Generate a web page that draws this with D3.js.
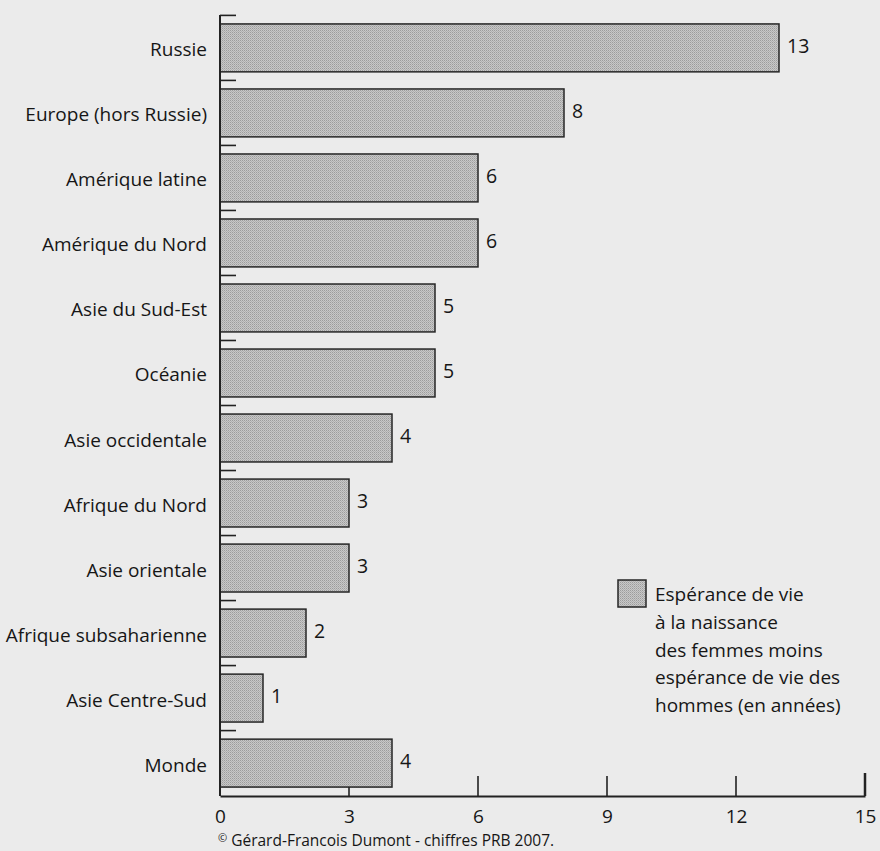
<!DOCTYPE html>
<html>
<head>
<meta charset="utf-8">
<script src="https://cdn.jsdelivr.net/npm/d3@7"></script>
<style>
  html, body { margin: 0; padding: 0; background: #ebebeb; }
  svg { display: block; }
  text { font-family: "Open Sans", "Noto Sans", sans-serif; fill: #161616; }
</style>
</head>
<body>
<svg id="chart" width="880" height="851"></svg>
<script>
const categories = ["Russie", "Europe (hors Russie)", "Amérique latine", "Amérique du Nord",
  "Asie du Sud-Est", "Océanie", "Asie occidentale", "Afrique du Nord", "Asie orientale",
  "Afrique subsaharienne", "Asie Centre-Sud", "Monde"];
const values = [13, 8, 6, 6, 5, 5, 4, 3, 3, 2, 1, 4];
const xTicks = [0, 3, 6, 9, 12, 15];
const legendLines = ["Espérance de vie", "à la naissance", "des femmes moins",
  "espérance de vie des", "hommes (en années)"];
const source = "Gérard-Francois Dumont - chiffres PRB 2007.";

const svg = d3.select("#chart");
svg.append("rect").attr("class", "bg").attr("width", 880).attr("height", 851).attr("fill", "#ebebeb");

// stipple pattern
const defs = svg.append("defs");
const pat = defs.append("pattern").attr("id", "stipple")
  .attr("width", 2).attr("height", 2).attr("patternUnits", "userSpaceOnUse");
pat.append("rect").attr("width", 2).attr("height", 2).attr("fill", "#c8c8c8");
pat.append("rect").attr("x", 0).attr("y", 0).attr("width", 1).attr("height", 1).attr("fill", "#9c9c9c");
pat.append("rect").attr("x", 1).attr("y", 1).attr("width", 1).attr("height", 1).attr("fill", "#b0b0b0");

const x0 = 220, xEnd = 865, yTop = 15, yBot = 796;
const x = d3.scaleLinear().domain([0, 15]).range([x0, xEnd]);
const y = d3.scaleBand().domain(categories).range([yTop, yBot])
  .paddingInner(0.263).paddingOuter(0.1375);
const step = y.step();
const gapHalf = step * y.paddingInner() / 2;

// x axis (drawn first so bars cover the low ticks)
const xAxis = d3.axisBottom(x).tickValues(xTicks).tickSize(0).tickPadding(0);
const gx = svg.append("g").attr("transform", `translate(0,${yBot})`).call(xAxis);
gx.select(".domain").attr("stroke", "#222").attr("stroke-width", 1.8);
gx.selectAll(".tick line").remove();
gx.selectAll(".tick text").attr("font-size", 19).attr("font-family", "Open Sans")
  .attr("fill", "#161616").attr("dy", 0).attr("y", 27);
svg.append("g").selectAll("line").data(xTicks.filter(t => t > 0)).join("line")
  .attr("x1", d => x(d)).attr("x2", d => x(d))
  .attr("y1", yBot).attr("y2", d => d === 15 ? yBot - 23 : yBot - 20)
  .attr("stroke", "#222").attr("stroke-width", d => d === 15 ? 2.5 : 1.6);

// bars
svg.append("g").selectAll("rect").data(categories).join("rect")
  .attr("x", x(0))
  .attr("y", d => y(d))
  .attr("width", (d, i) => x(values[i]) - x(0))
  .attr("height", y.bandwidth())
  .attr("fill", "url(#stipple)")
  .attr("stroke", "#262626")
  .attr("stroke-width", 1.5);

// value labels
svg.append("g").selectAll("text").data(categories).join("text")
  .attr("x", (d, i) => x(values[i]) + 8)
  .attr("y", d => y(d) + y.bandwidth() / 2 + 5)
  .attr("font-size", 19.5)
  .text((d, i) => values[i]);

// category labels
svg.append("g").selectAll("text").data(categories).join("text")
  .attr("x", 207)
  .attr("y", d => y(d) + y.bandwidth() / 2 + 8.5)
  .attr("text-anchor", "end")
  .attr("font-size", 19)
  .text(d => d);

// y axis line and separator ticks
svg.append("line").attr("x1", x0).attr("x2", x0).attr("y1", yTop).attr("y2", yBot)
  .attr("stroke", "#222").attr("stroke-width", 2);
svg.append("g").selectAll("line").data(categories).join("line")
  .attr("x1", x0).attr("x2", x0 + 16)
  .attr("y1", d => y(d) - gapHalf).attr("y2", d => y(d) - gapHalf)
  .attr("stroke", "#222").attr("stroke-width", 1.6);

// legend
const lg = svg.append("g");
lg.append("rect").attr("x", 618).attr("y", 580).attr("width", 28).attr("height", 27)
  .attr("fill", "url(#stipple)").attr("stroke", "#262626").attr("stroke-width", 1.5);
lg.selectAll("text").data(legendLines).join("text")
  .attr("x", 655).attr("y", (d, i) => 601 + i * 27.8)
  .attr("font-size", 19).text(d => d);

// source
const st = svg.append("text").attr("x", 218).attr("y", 846).attr("font-size", 15.5);
st.append("tspan").attr("font-size", 11).attr("dy", -4).text("©");
st.append("tspan").attr("dy", 4).text(" " + source);
</script>
</body>
</html>
